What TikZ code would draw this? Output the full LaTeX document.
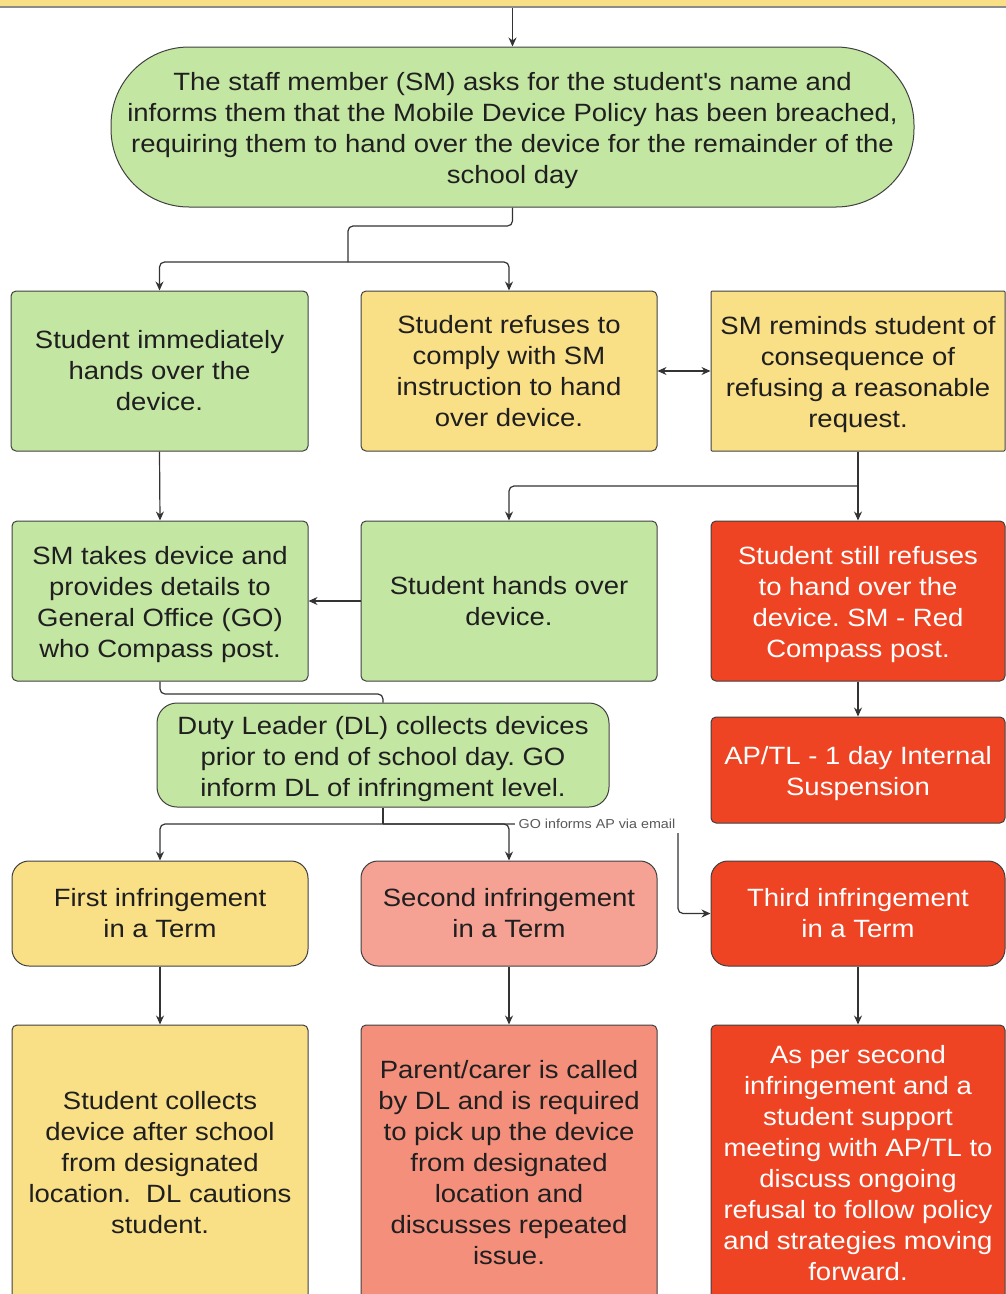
\documentclass[tikz,border=0pt]{standalone}
\usepackage{fontspec}
\setmainfont{Liberation Sans}[FakeStretch=1.1]
\usetikzlibrary{arrows.meta}
\definecolor{bgreen}{HTML}{C4E6A3}
\definecolor{byellow}{HTML}{F9DF86}
\definecolor{bred}{HTML}{EF4423}
\definecolor{bsalmon}{HTML}{F5A193}
\definecolor{bsalmontwo}{HTML}{F48F7C}
\definecolor{lncol}{HTML}{333333}
\newcommand{\firstup}{\rule{0pt}{26pt}}
\frenchspacing
\begin{document}
\begin{tikzpicture}[x=1pt,y=-1pt,
  box/.style={draw=black!75, line width=1pt, rounded corners=5pt, align=center,
    font=\fontsize{25}{31}\selectfont, inner sep=0pt, text=black!88},
  sqbox/.style={box, rounded corners=1pt},
  whitetxt/.style={text=white},
  conn/.style={draw=lncol, line width=1.2pt, rounded corners=5pt},
  arr/.style={conn, -{Stealth[length=9pt,width=8pt]}},
  darr/.style={conn, {Stealth[length=9pt,width=8pt]}-{Stealth[length=9pt,width=8pt]}},
  lbl/.style={font=\fontsize{13}{15}\selectfont, text=black!65, fill=white, inner xsep=3.5pt, inner ysep=4pt}
]
\useasboundingbox (0,0) rectangle (1006,1294);

% top partial box
\node[draw=black!45, line width=1.5pt, fill=byellow, minimum width=1040pt, minimum height=40pt, inner sep=0pt] (top) at (503,-13) {};

\node[box, fill=bgreen, rounded corners=78pt, minimum width=803pt, minimum height=160pt] (term) at (512.5,127)
  {\firstup The staff member (SM) asks for the student\textquotesingle s name and\\informs them that the Mobile Device Policy has been breached,\\requiring them to hand over the device for the remainder of the\\school day};

\node[box, fill=bgreen, minimum width=297pt, minimum height=160pt] (A) at (159.5,371)
  {Student immediately\\hands over the\\device.};
\node[box, fill=byellow, minimum width=296pt, minimum height=160pt] (B) at (509,371)
  {Student refuses to\\comply with SM\\instruction to hand\\over device.};
\node[sqbox, fill=byellow, minimum width=294pt, minimum height=160pt] (C) at (858,371)
  {\firstup SM reminds student of\\consequence of\\refusing a reasonable\\request.};

\node[box, fill=bgreen, minimum width=296pt, minimum height=160pt] (D) at (160,601)
  {\firstup SM takes device and\\provides details to\\General Office (GO)\\who Compass post.};
\node[box, fill=bgreen, minimum width=296pt, minimum height=160pt] (E) at (509,601)
  {Student hands over\\device.};
\node[box, whitetxt, fill=bred, minimum width=294pt, minimum height=160pt] (F) at (858,601)
  {\firstup Student still refuses\\to hand over the\\device. SM - Red\\Compass post.};

\node[box, fill=bgreen, rounded corners=20pt, minimum width=452pt, minimum height=104pt] (G) at (383,755)
  {\firstup Duty Leader (DL) collects devices\\prior to end of school day. GO\\inform DL of infringment level.};
\node[box, whitetxt, fill=bred, minimum width=294pt, minimum height=106pt] (H) at (858,770)
  {\firstup AP/TL - 1 day Internal\\Suspension};

\node[box, fill=byellow, rounded corners=17pt, minimum width=296pt, minimum height=105pt] (I1) at (160,913.5)
  {First infringement\\in a Term};
\node[box, fill=bsalmon, rounded corners=17pt, minimum width=296pt, minimum height=105pt] (I2) at (509,913.5)
  {Second infringement\\in a Term};
\node[box, whitetxt, fill=bred, rounded corners=17pt, minimum width=294pt, minimum height=105pt] (I3) at (858,913.5)
  {Third infringement\\in a Term};

\node[box, fill=byellow, minimum width=296pt, minimum height=276pt] (J1) at (160,1163)
  {Student collects\\device after school\\from designated\\location.\ \ DL cautions\\student.};
\node[box, fill=bsalmontwo, minimum width=296pt, minimum height=276pt] (J2) at (509,1163)
  {Parent/carer is called\\by DL and is required\\to pick up the device\\from designated\\location and\\discusses repeated\\issue.};
\node[box, whitetxt, fill=bred, minimum width=294pt, minimum height=276pt] (J3) at (858,1163)
  {As per second\\infringement and a\\student support\\meeting with AP/TL to\\discuss ongoing\\refusal to follow policy\\and strategies moving\\forward.};

% connectors
\draw[arr] (top.south -| term.north) -- (term.north);
\coordinate (s1) at (348,262);
\draw[conn] (term.south) -- (512.5,226) -- (348,226) -- (s1);
\draw[arr] (s1) -| (A.north);
\draw[arr] (s1) -| (B.north);
\draw[darr] (B.east) -- (C.east -| C.west);
\draw[arr] (A.south) -- (D.north);
\coordinate (s2) at (858,486);
\draw[arr] (C.south) -- (F.north);
\draw[arr] (s2) -| (E.north);
\draw[arr] (E.west) -- (D.east);
\draw[conn] (D.south) -- (160,694) -| (G.north);
\draw[arr] (F.south) -- (H.north);
\coordinate (s3) at (383,824);
\draw[conn] (G.south) -- (s3);
\draw[arr] (s3) -| (I1.north);
\draw[arr] (s3) -| (I2.north);
\draw[arr] (s3) -- (678,824) -- (678,913.5) -- (I3.west);
\node[lbl, anchor=west] (lab) at (515,824) {GO informs AP via email};
\draw[arr] (I1.south) -- (J1.north);
\draw[arr] (I2.south) -- (J2.north);
\draw[arr] (I3.south) -- (J3.north);
\end{tikzpicture}
\end{document}
